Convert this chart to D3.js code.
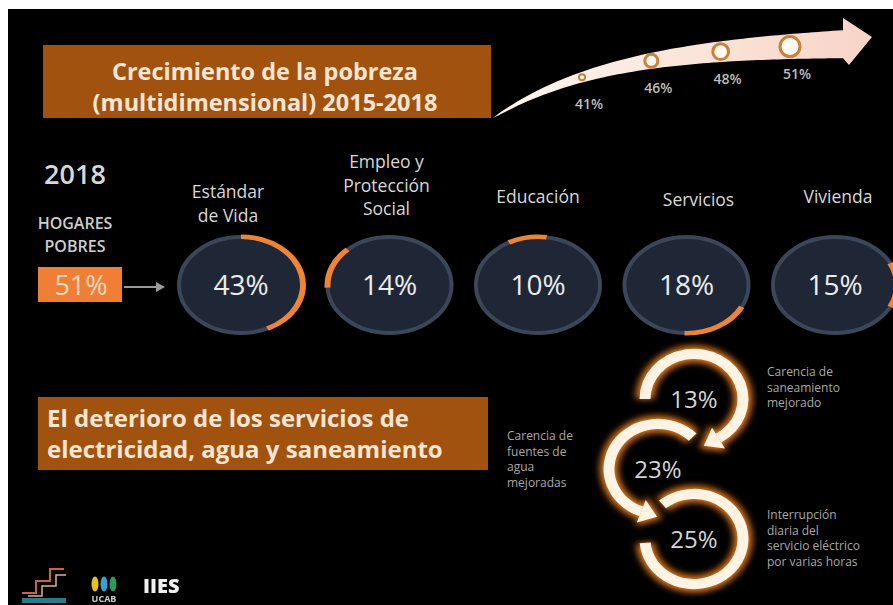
<!DOCTYPE html>
<html>
<head>
<meta charset="utf-8">
<script src="https://cdn.jsdelivr.net/npm/d3@7"></script>
<style>
  html, body { margin: 0; padding: 0; background: #fff; }
  svg { display: block; font-family: "Open Sans", sans-serif; }
</style>
</head>
<body>
<svg id="chart" width="893" height="605"></svg>
<script>
const trendLabels = ["41%", "46%", "48%", "51%"];
const trendValues = [41, 46, 48, 51];

const householdYear = "2018";
const householdLabel = ["HOGARES", "POBRES"];
const householdValue = 51;

const dimensionNames = [["Estándar", "de Vida"], ["Empleo y", "Protección", "Social"], ["Educación"], ["Servicios"], ["Vivienda"]];
const dimensionValues = [43, 14, 10, 18, 15];

const serviceNames = [
  ["Carencia de", "saneamiento", "mejorado"],
  ["Carencia de", "fuentes de", "agua", "mejoradas"],
  ["Interrupción", "diaria del", "servicio eléctrico", "por varias horas"]
];
const serviceValues = [13, 23, 25];

const titleTop = ["Crecimiento de la pobreza", "(multidimensional) 2015-2018"];
const titleBottom = ["El deterioro de los servicios de", "electricidad, agua y saneamiento"];

// ---- setup ----
const svg = d3.select("#chart");
const defs = svg.append("defs");

const glow = defs.append("filter").attr("id", "glow")
  .attr("x", "-30%").attr("y", "-30%").attr("width", "160%").attr("height", "160%");
glow.append("feGaussianBlur").attr("stdDeviation", 3.5);

const soft = defs.append("filter").attr("id", "soft");
soft.append("feGaussianBlur").attr("stdDeviation", 0.6);

const arrowGrad = defs.append("linearGradient").attr("id", "arrowGrad")
  .attr("x1", "0%").attr("x2", "100%");
arrowGrad.append("stop").attr("offset", "0%").attr("stop-color", "#fff6f0");
arrowGrad.append("stop").attr("offset", "100%").attr("stop-color", "#f8d4c6");

// black background (white margin top/left as in the picture)
svg.append("rect").attr("x", 8).attr("y", 9).attr("width", 885).attr("height", 596).attr("fill", "#000");

const cream = "#f7e6d4";
const brown = "#a2520f";
const orange = "#ee8434";
const grey = "#d8d8d8";

// ---- top title box ----
svg.append("rect").attr("x", 43).attr("y", 45).attr("width", 448).attr("height", 73).attr("fill", brown);
svg.append("g").selectAll("text").data(titleTop).join("text")
  .attr("x", 265).attr("y", (d, i) => 80 + i * 31)
  .attr("text-anchor", "middle").attr("font-size", 23.5).attr("font-weight", 700)
  .attr("fill", cream).text(d => d);

// ---- growth arrow ----
const tailX = 493, headX = 843;
const centre = x => 40 + 78 * Math.exp(-(x - tailX) / 120);
const halfW = x => 14 * Math.pow((x - tailX) / (headX - tailX), 0.7);
const xs = d3.range(tailX, headX + 1, 5);
const outline = xs.map(x => [x, centre(x) - halfW(x)])
  .concat([[headX, 18], [872, 37], [849, 65]])
  .concat(xs.slice().reverse().map(x => [x, centre(x) + halfW(x)]));
svg.append("path").attr("d", d3.line()(outline) + "Z").attr("fill", "url(#arrowGrad)");

const xTrend = d3.scalePoint().domain(d3.range(trendValues.length)).range([582, 790]);
const rTrend = d3.scaleLinear().domain(d3.extent(trendValues)).range([3, 10]);

svg.append("g").selectAll("circle").data(trendValues).join("circle")
  .attr("cx", (d, i) => xTrend(i)).attr("cy", (d, i) => centre(xTrend(i)))
  .attr("r", d => rTrend(d))
  .attr("fill", "#fffaf2").attr("stroke", "#c98038").attr("stroke-width", d => rTrend(d) > 4 ? 3 : 2);

svg.append("g").selectAll("text").data(trendLabels).join("text")
  .attr("x", (d, i) => xTrend(i) + 7).attr("y", (d, i) => centre(xTrend(i)) + 32)
  .attr("text-anchor", "middle").attr("font-size", 14).attr("font-weight", 600)
  .attr("fill", "#bdbdbd").text(d => d);

// ---- 2018 households ----
svg.append("text").attr("x", 75).attr("y", 184).attr("text-anchor", "middle")
  .attr("font-size", 27).attr("font-weight", 600).attr("fill", grey).text(householdYear);
svg.append("g").selectAll("text").data(householdLabel).join("text")
  .attr("x", 75).attr("y", (d, i) => 229 + i * 23).attr("text-anchor", "middle")
  .attr("font-size", 16).attr("font-weight", 600).attr("fill", "#cdcdcd").text(d => d);
svg.append("rect").attr("x", 38).attr("y", 267).attr("width", 84).attr("height", 35).attr("fill", "#f07f35");
svg.append("text").attr("x", 81).attr("y", 295).attr("text-anchor", "middle")
  .attr("font-size", 27).attr("fill", "#fbd9c2").text(householdValue + "%");
svg.append("line").attr("x1", 124).attr("x2", 158).attr("y1", 287).attr("y2", 287)
  .attr("stroke", "#9a9a9a").attr("stroke-width", 2);
svg.append("path").attr("d", "M156,282L165,287L156,292Z").attr("fill", "#9a9a9a");

// ---- dimensions (ellipses with progress arc) ----
const arcStartDeg = [0, -93, -28, 117, 63];
const xDim = d3.scalePoint().domain(d3.range(dimensionValues.length)).range([241, 835]);
const angle = d3.scaleLinear().domain([0, 100]).range([0, 2 * Math.PI]);
const rx = 63, ry = 49, cyDim = 285;
const ring = d3.arc().innerRadius(rx - 4).outerRadius(rx + 2);

const dims = svg.append("g").selectAll("g").data(dimensionValues).join("g")
  .attr("transform", (d, i) => `translate(${xDim(i)},${cyDim})`);
dims.append("ellipse").attr("rx", rx - 1).attr("ry", ry - 1)
  .attr("fill", "#1f2736").attr("stroke", "#3b4659").attr("stroke-width", 4);
dims.append("path")
  .attr("transform", `scale(1,${ry / rx})`)
  .attr("d", (d, i) => {
    const a0 = arcStartDeg[i] * Math.PI / 180;
    return ring({ startAngle: a0, endAngle: a0 + angle(d) });
  })
  .attr("fill", orange);
dims.append("text").attr("y", 10).attr("text-anchor", "middle")
  .attr("font-size", 28).attr("fill", "#ececec").text(d => d + "%");

const labelBase = [198, 168, 203, 206, 203];
const labelDx = [-13, -3, 0, 12, 3];
const nameGroups = svg.append("g").selectAll("g").data(dimensionNames).join("g");
nameGroups.selectAll("text").data((d, i) => d.map(t => ({ t, i }))).join("text")
  .attr("x", d => xDim(d.i) + labelDx[d.i])
  .attr("y", (d, j) => labelBase[d.i] + j * 23.5)
  .attr("text-anchor", "middle").attr("font-size", 17.5).attr("fill", grey)
  .text(d => d.t);

// ---- bottom title box ----
svg.append("rect").attr("x", 38).attr("y", 397).attr("width", 450).attr("height", 73).attr("fill", brown);
svg.append("g").selectAll("text").data(titleBottom).join("text")
  .attr("x", 47).attr("y", (d, i) => 427 + i * 31)
  .attr("font-size", 24).attr("font-weight", 700)
  .attr("fill", cream).text(d => d);

// ---- services chain of circular arrows ----
const yServ = d3.scalePoint().domain(d3.range(serviceValues.length)).range([399, 539]);
const xServ = i => (i % 2 ? 658 : 694);
const ringSpec = [
  { a0: -90, a1: 150, head: true },
  { a0: 45, a1: -160, head: true },
  { a0: -40, a1: 265, head: false }
];
const rMid = 49, scaleY = 0.92;
const rad = d => d * Math.PI / 180;

const rings = svg.append("g").selectAll("g").data(serviceValues).join("g")
  .attr("transform", (d, i) => `translate(${xServ(i)},${yServ(i)})`);

function headPath(spec, half) {
  const t = rad(spec.a1);
  const dir = spec.a1 > spec.a0 ? 1 : -1;
  const px = rMid * Math.sin(t), py = -rMid * Math.cos(t);
  const nx = Math.sin(t), ny = -Math.cos(t);            // radial
  const tx = dir * Math.cos(t), ty = dir * Math.sin(t);  // tangent
  const len = half * 1.3;
  return `M${px + nx * half},${py + ny * half}L${px + tx * len},${py + ty * len}L${px - nx * half},${py - ny * half}Z`;
}

[{ w: 9, color: "#e07a22", filter: "url(#glow)", hw: 15 },
 { w: 5.5, color: "#fff3e4", filter: null, hw: 11 }].forEach(layer => {
  const g = rings.append("g").attr("transform", `scale(1,${scaleY})`)
    .attr("filter", layer.filter);
  g.append("path")
    .attr("d", (d, i) => d3.arc().innerRadius(rMid - layer.w).outerRadius(rMid + layer.w)
      ({ startAngle: rad(ringSpec[i].a0), endAngle: rad(ringSpec[i].a1) }))
    .attr("fill", layer.color);
  g.filter((d, i) => ringSpec[i].head).append("path")
    .attr("d", (d, i) => headPath(ringSpec[i], layer.hw + 2))
    .attr("fill", layer.color);
});

rings.append("text").attr("y", 9).attr("text-anchor", "middle")
  .attr("font-size", 24).attr("fill", "#d4d4d4").text(d => d + "%");

const noteX = [767, 507, 767];
const noteY = [376, 440, 519];
const notes = svg.append("g").selectAll("g").data(serviceNames).join("g");
notes.selectAll("text").data((d, i) => d.map(t => ({ t, i }))).join("text")
  .attr("x", d => noteX[d.i]).attr("y", (d, j) => noteY[d.i] + j * 15.5)
  .attr("font-size", 12).attr("fill", "#a8a8a8").text(d => d.t);

// ---- logos ----
const logo = svg.append("g").attr("filter", "url(#soft)");
logo.append("path").attr("d", "M22,593H36V581H50V569H64")
  .attr("fill", "none").attr("stroke", "#c8663a").attr("stroke-width", 2);
logo.append("path").attr("d", "M28,596H42V586H56V575H66")
  .attr("fill", "none").attr("stroke", "#e0b090").attr("stroke-width", 1.5);
logo.append("rect").attr("x", 22).attr("y", 598).attr("width", 44).attr("height", 5).attr("fill", "#2b7a8a");
[["#e5c21f", 95], ["#3aa0d2", 104], ["#2f9a5c", 113]].forEach(([c, x]) => {
  logo.append("ellipse").attr("cx", x).attr("cy", 584).attr("rx", 3.5).attr("ry", 7.5).attr("fill", c);
});
logo.append("text").attr("x", 104).attr("y", 602).attr("text-anchor", "middle")
  .attr("font-size", 9).attr("font-weight", 700).attr("fill", "#cfcfcf").text("UCAB");
logo.append("text").attr("x", 143).attr("y", 593)
  .attr("font-size", 20).attr("font-weight", 800).attr("fill", "#efefef").text("IIES");
</script>
</body>
</html>
